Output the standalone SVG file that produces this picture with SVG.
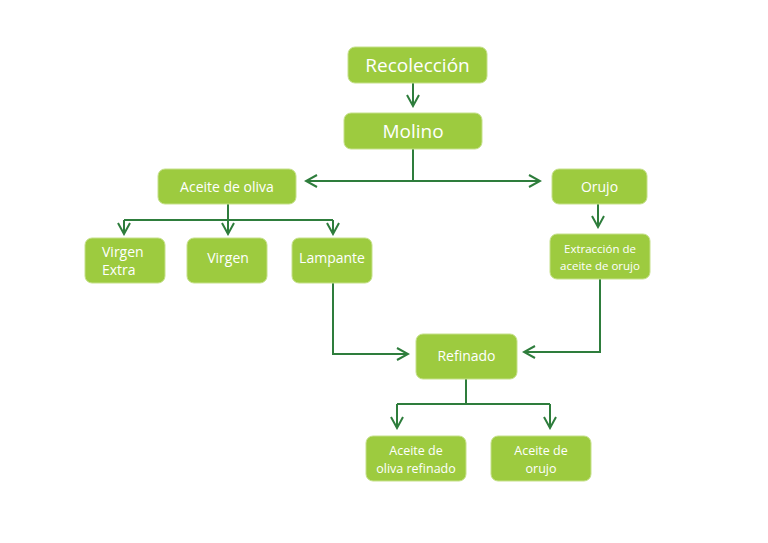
<svg xmlns="http://www.w3.org/2000/svg" width="768" height="543" viewBox="0 0 768 543">
<style>
.n{fill:#9dcb3f;stroke:#c5e08a;stroke-width:1}
.t{fill:#fff;font-family:"Open Sans","DejaVu Sans",sans-serif;text-anchor:middle}
.s{text-anchor:start}
.c{fill:none;stroke:#2e7d3c;stroke-width:2}
</style>
<defs><marker id="a" viewBox="0 0 14 14" refX="12" refY="7" markerWidth="14" markerHeight="14" markerUnits="userSpaceOnUse" orient="auto"><path d="M1,1 L12,7 L1,13" fill="none" stroke="#2e7d3c" stroke-width="2"/></marker></defs>
<rect width="768" height="543" fill="#fff"/>
<g id="connectors" class="c">
<path d="M413,83V106" marker-end="url(#a)"/>
<path d="M413,149V181"/>
<path d="M413,181H306" marker-end="url(#a)"/>
<path d="M413,181H540" marker-end="url(#a)"/>
<path d="M228,204V220M124,220H333"/>
<path d="M124,220V234" marker-end="url(#a)"/>
<path d="M228,220V234" marker-end="url(#a)"/>
<path d="M333,220V234" marker-end="url(#a)"/>
<path d="M598,204V227" marker-end="url(#a)"/>
<path d="M333,283V354H408" marker-end="url(#a)"/>
<path d="M600,279V352H524" marker-end="url(#a)"/>
<path d="M466,379V404M397,404H550"/>
<path d="M397,404V428" marker-end="url(#a)"/>
<path d="M550,404V428" marker-end="url(#a)"/>
</g>
<g id="recoleccion"><rect class="n" x="348" y="47" width="139" height="36" rx="7"/><text class="t" x="417.5" y="72" font-size="19">Recolección</text></g>
<g id="molino"><rect class="n" x="344" y="113" width="138" height="36" rx="7"/><text class="t" x="413" y="138" font-size="19">Molino</text></g>
<g id="aceite"><rect class="n" x="158" y="169" width="138" height="35" rx="7"/><text class="t" x="227" y="192" font-size="14">Aceite de oliva</text></g>
<g id="orujo"><rect class="n" x="552" y="169" width="95" height="35" rx="7"/><text class="t" x="599.5" y="192" font-size="14">Orujo</text></g>
<g id="virgenextra"><rect class="n" x="85" y="238" width="80" height="45" rx="7"/><text class="t s" font-size="14"><tspan x="102" y="257">Virgen</tspan><tspan x="102" y="275">Extra</tspan></text></g>
<g id="virgen"><rect class="n" x="187" y="238" width="80" height="45" rx="7"/><text class="t" x="228" y="263" font-size="14">Virgen</text></g>
<g id="lampante"><rect class="n" x="292" y="238" width="80" height="45" rx="7"/><text class="t" x="332" y="263" font-size="14">Lampante</text></g>
<g id="extraccion"><rect class="n" x="550" y="234" width="100" height="45" rx="7"/><text class="t" font-size="11.5"><tspan x="600" y="253">Extracción de</tspan><tspan x="600" y="270">aceite de orujo</tspan></text></g>
<g id="refinado"><rect class="n" x="416" y="334" width="101" height="45" rx="7"/><text class="t" x="466.5" y="361" font-size="14">Refinado</text></g>
<g id="aceiterefinado"><rect class="n" x="366" y="436" width="100" height="45" rx="7"/><text class="t" font-size="12.5"><tspan x="416" y="455">Aceite de</tspan><tspan x="416" y="473">oliva  refinado</tspan></text></g>
<g id="aceiteorujo"><rect class="n" x="491" y="436" width="100" height="45" rx="7"/><text class="t" font-size="12.5"><tspan x="541" y="455">Aceite de</tspan><tspan x="541" y="473">orujo</tspan></text></g>
</svg>
